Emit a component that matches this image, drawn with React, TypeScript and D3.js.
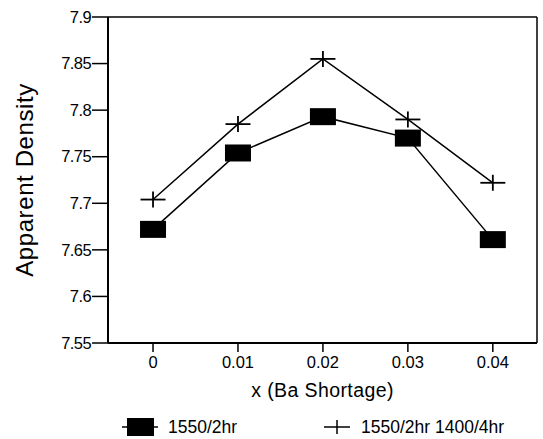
import React from "react";
import * as d3 from "d3";

const xValues = [0, 0.01, 0.02, 0.03, 0.04];
const xTickLabels = ["0", "0.01", "0.02", "0.03", "0.04"];
const series1Name = "1550/2hr";
const series1 = [7.672, 7.754, 7.793, 7.77, 7.661];
const series2Name = "1550/2hr 1400/4hr";
const series2 = [7.704, 7.785, 7.855, 7.79, 7.722];
const yTicks = [7.55, 7.6, 7.65, 7.7, 7.75, 7.8, 7.85, 7.9];
const yTickLabels = ["7.55", "7.6", "7.65", "7.7", "7.75", "7.8", "7.85", "7.9"];

const W = 543;
const H = 439;
const left = 108;
const right = 537;
const top = 17;
const bottom = 343;
const font = "'Liberation Sans', Arial, Helvetica, sans-serif";

export default function App() {
  const x = d3.scaleLinear().domain([-0.0053, 0.0452]).range([left, right]);
  const y = d3.scaleLinear().domain([7.55, 7.9]).range([bottom, top]);
  const line = d3
    .line<number>()
    .x((_, i) => x(xValues[i]))
    .y((d) => y(d));

  return (
    <svg
      width={W}
      height={H}
      style={{ position: "absolute", left: 0, top: 0, background: "#fff" }}
      fontFamily={font}
    >
      {/* frame */}
      <line x1={left} y1={top} x2={right} y2={top} stroke="#000" strokeWidth={1.5} />
      <line x1={right} y1={top} x2={right} y2={bottom} stroke="#000" strokeWidth={1.5} />
      <line x1={left} y1={top} x2={left} y2={bottom} stroke="#000" strokeWidth={2} />
      <line x1={left} y1={bottom} x2={right} y2={bottom} stroke="#000" strokeWidth={2} />

      {/* y ticks */}
      {yTicks.map((t, i) => (
        <g key={"y" + i}>
          <line x1={left - 16} x2={left} y1={y(t)} y2={y(t)} stroke="#000" strokeWidth={1.5} />
          <text x={left - 17} y={y(t)} dy="0.35em" textAnchor="end" fontSize={16.5} letterSpacing={-0.6}>
            {yTickLabels[i]}
          </text>
        </g>
      ))}

      {/* x ticks */}
      {xValues.map((t, i) => (
        <g key={"x" + i}>
          <line x1={x(t)} x2={x(t)} y1={bottom} y2={bottom + 9} stroke="#000" strokeWidth={1.5} />
          <text x={x(t)} y={bottom + 25} textAnchor="middle" fontSize={16.5}>
            {xTickLabels[i]}
          </text>
        </g>
      ))}

      {/* axis titles */}
      <text x={(left + right) / 2} y={bottom + 54} textAnchor="middle" fontSize={19.5} letterSpacing={0.4}>
        x (Ba Shortage)
      </text>
      <text
        transform={`translate(33, ${(top + bottom) / 2}) rotate(-90)`}
        textAnchor="middle"
        fontSize={24}
        letterSpacing={0.6}
      >
        Apparent Density
      </text>

      {/* series lines */}
      <path d={line(series2) || ""} fill="none" stroke="#000" strokeWidth={1.5} />
      <path d={line(series1) || ""} fill="none" stroke="#000" strokeWidth={1.5} />

      {/* markers series 1: filled rectangles */}
      {series1.map((v, i) => (
        <rect key={"s1" + i} x={x(xValues[i]) - 13} y={y(v) - 8.5} width={26} height={17} fill="#000" />
      ))}
      {/* markers series 2: plus */}
      {series2.map((v, i) => (
        <g key={"s2" + i} stroke="#000" strokeWidth={1.8}>
          <line x1={x(xValues[i]) - 12.5} x2={x(xValues[i]) + 12.5} y1={y(v)} y2={y(v)} />
          <line x1={x(xValues[i])} x2={x(xValues[i])} y1={y(v) - 8} y2={y(v) + 8} />
        </g>
      ))}

      {/* legend */}
      <g>
        <line x1={122} x2={158} y1={427} y2={427} stroke="#000" strokeWidth={1.5} />
        <rect x={127} y={418} width={27} height={18} fill="#000" />
        <text x={168} y={427} dy="0.35em" fontSize={17.5}>
          {series1Name}
        </text>
        <line x1={324} x2={350} y1={427} y2={427} stroke="#000" strokeWidth={1.5} />
        <line x1={337} x2={337} y1={420} y2={434} stroke="#000" strokeWidth={1.5} />
        <text x={361} y={427} dy="0.35em" fontSize={17.5}>
          {series2Name}
        </text>
      </g>
    </svg>
  );
}
